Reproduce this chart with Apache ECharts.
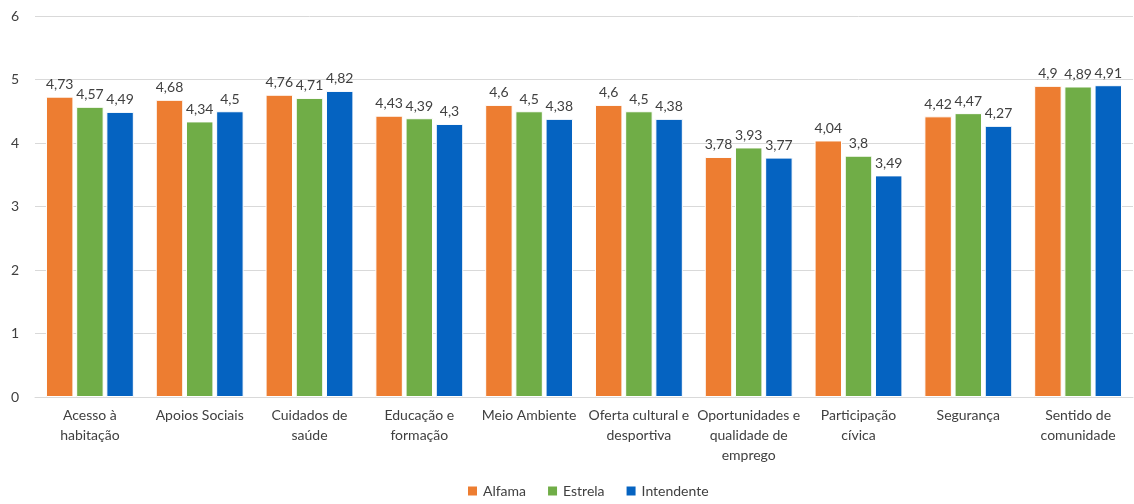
<!DOCTYPE html>
<html>
<head>
    <meta charset="utf-8" />
    <title>Avaliação por bairro</title>
    <script type="text/javascript" src="https://cdn.jsdelivr.net/npm/echarts@6/dist/echarts.min.js"></script>
    <style>
        html, body { margin: 0; padding: 0; background: #fff; }
    </style>
</head>
<body>
<div id="main" style="width: 1134px;height:504px;"></div>
<script type="text/javascript">
    // categorias (eixo x)
    var categorias = ['Acesso à\nhabitação', 'Apoios Sociais', 'Cuidados de\nsaúde', 'Educação e\nformação',
        'Meio Ambiente', 'Oferta cultural e\ndesportiva', 'Oportunidades e\nqualidade de\nemprego',
        'Participação\ncívica', 'Segurança', 'Sentido de\ncomunidade'];
    var alfama = [4.73, 4.68, 4.76, 4.43, 4.6, 4.6, 3.78, 4.04, 4.42, 4.9];
    var estrela = [4.57, 4.34, 4.71, 4.39, 4.5, 4.5, 3.93, 3.8, 4.47, 4.89];
    var intendente = [4.49, 4.5, 4.82, 4.3, 4.38, 4.38, 3.77, 3.49, 4.27, 4.91];
    var yTicks = [0, 1, 2, 3, 4, 5, 6];

    var fonte = 'Lato, "Open Sans", sans-serif';
    var myChart = echarts.init(document.getElementById('main'));

    function serie(nome, dados, cor) {
        return {
            name: nome,
            type: 'bar',
            data: dados,
            barGap: '10%',
            barCategoryGap: '20%',
            itemStyle: { color: cor, borderColor: '#fff', borderWidth: 1 },
            label: {
                show: true,
                position: 'top',
                distance: 5,
                color: '#404040',
                fontFamily: fonte,
                fontSize: 14,
                formatter: function (p) { return String(p.value).replace('.', ','); }
            }
        };
    }

    var option = {
        animation: false,
        textStyle: { fontFamily: fonte },
        grid: { left: 35, right: 1, top: 16, bottom: 107 },
        legend: {
            bottom: 1,
            left: 461,
            itemWidth: 11,
            itemHeight: 11,
            itemGap: 20,
            icon: 'rect',
            textStyle: { color: '#404040', fontSize: 14, fontFamily: fonte },
            data: ['Alfama', 'Estrela', 'Intendente']
        },
        xAxis: {
            type: 'category',
            data: categorias,
            axisTick: { show: false },
            axisLine: { lineStyle: { color: '#d9d9d9', width: 1 } },
            axisLabel: { color: '#404040', fontSize: 14, fontFamily: fonte, lineHeight: 20, margin: 8, interval: 0 }
        },
        yAxis: {
            type: 'value',
            min: yTicks[0],
            max: yTicks[yTicks.length - 1],
            interval: 1,
            axisLine: { show: false },
            axisTick: { show: false },
            splitLine: { lineStyle: { color: '#d9d9d9' } },
            axisLabel: { color: '#404040', fontSize: 14, fontFamily: fonte, margin: 16 }
        },
        series: [
            serie('Alfama', alfama, '#ED7D31'),
            serie('Estrela', estrela, '#70AD47'),
            serie('Intendente', intendente, '#0563C1')
        ]
    };
    myChart.setOption(option);
</script>
</body>
</html>
